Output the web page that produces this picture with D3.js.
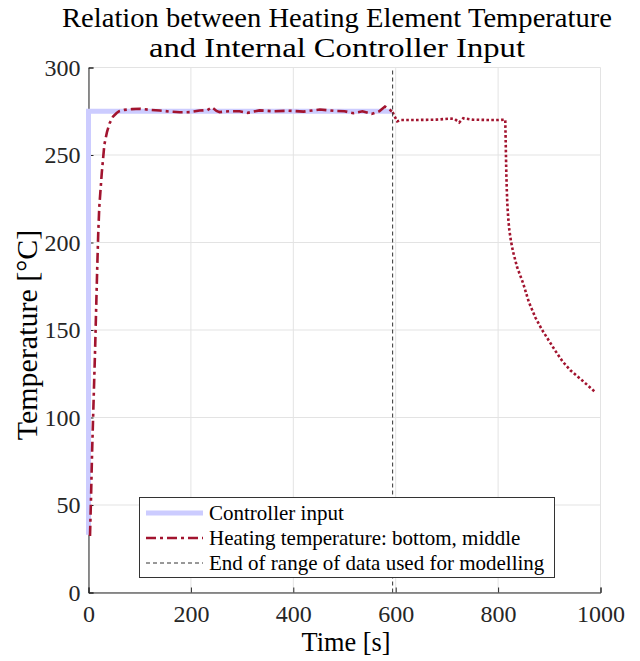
<!DOCTYPE html>
<html>
<head>
<meta charset="utf-8">
<script src="https://cdn.jsdelivr.net/npm/d3@7"></script>
<style>
  html, body { margin: 0; padding: 0; background: #fff; }
  svg { display: block; }
</style>
</head>
<body>
<svg id="chart" width="640" height="661"></svg>
<script>
// ---- data ----
const titleLines = ["Relation between Heating Element Temperature", "and Internal Controller Input"];
const xLabel = "Time [s]";
const yLabel = "Temperature [°C]";
const xTicks = [0, 200, 400, 600, 800, 1000];
const yTicks = [0, 50, 100, 150, 200, 250, 300];
const legendLabels = ["Controller input", "Heating temperature: bottom, middle", "End of range of data used for modelling"];

const controlTime = [0, 0, 592];
const controlValue = [33, 275, 275];

const heatTime = [1, 3, 5, 7, 10, 13, 15, 17, 19, 21, 26, 31, 36, 41, 48, 55, 60, 70, 85, 100, 120, 139, 160, 178, 198, 217, 232, 241, 250, 256, 275, 295, 311, 334, 360, 390, 420, 452, 480, 500, 517, 535, 553, 568, 579, 588, 594,
  597, 603, 610, 640, 680, 706, 715, 724, 732, 750, 780, 800, 814, 815, 816, 817, 818, 820, 822, 825, 829, 837, 849, 860, 873, 886, 899, 912, 926, 941, 965, 988];
const heatValue = [33, 33, 55, 80, 110, 140, 163, 185, 205, 220, 240, 256, 263, 268, 272, 274, 275, 275.8, 276.2, 276.4, 275.8, 275.4, 274.8, 274.4, 274.5, 275.4, 275.6, 277.3, 275.2, 274.5, 275, 275, 274.1, 275.5, 275, 275.3, 274.8, 276, 275.2, 275, 273.9, 275, 273.5, 275, 277.7, 276, 274.5,
  272.6, 269.2, 270, 270, 270.2, 270.8, 270.6, 268.6, 271, 270.2, 270, 270, 270.2, 255, 240, 230, 222, 213, 207, 201, 195, 186, 176.6, 166, 157, 150, 144, 138, 132, 127, 121, 115];

const modelEnd = 594;

// ---- layout ----
const FONT = "Liberation Serif";
const svg = d3.select("#chart");
const x = d3.scaleLinear().domain([0, 1000]).range([88.5, 600.5]);
const y = d3.scaleLinear().domain([0, 300]).range([592.5, 67.5]);

const axisColor = "#262626";
const gridColor = "#e3e3e3";
const blue = "#ccccff";
const red = "#a2142f";

// grid
const g = svg.append("g");
g.selectAll("line.vg").data(xTicks).join("line")
  .attr("x1", d => x(d)).attr("x2", d => x(d))
  .attr("y1", y(0)).attr("y2", y(300))
  .attr("stroke", gridColor).attr("stroke-width", 1);
g.selectAll("line.hg").data(yTicks).join("line")
  .attr("x1", x(0)).attr("x2", x(1000))
  .attr("y1", d => y(d)).attr("y2", d => y(d))
  .attr("stroke", gridColor).attr("stroke-width", 1);

// axes
const xAxis = svg.append("g").attr("transform", `translate(0,${y(0)})`)
  .call(d3.axisBottom(x).tickValues(xTicks).tickSize(-5).tickPadding(12).tickFormat(d3.format("d")));
const yAxis = svg.append("g").attr("transform", `translate(${x(0)},0)`)
  .call(d3.axisLeft(y).tickValues(yTicks).tickSize(-5).tickPadding(8).tickFormat(d3.format("d")));
[xAxis, yAxis].forEach(a => {
  a.attr("font-family", FONT).attr("font-size", 24);
  a.select(".domain").attr("stroke", axisColor).attr("stroke-width", 1);
  a.selectAll(".tick line").attr("stroke", axisColor);
  a.selectAll(".tick text").style("font-family", FONT).style("font-size", "24px").attr("fill", axisColor);
});
xAxis.selectAll(".tick text").attr("dy", "0.71em");
yAxis.selectAll(".tick text").attr("dy", "0.32em");

// lines
const line = d3.line().x(d => x(d[0])).y(d => y(d[1]));
const ctrl = controlTime.map((t, i) => [t, controlValue[i]]);
svg.append("path").datum(ctrl).attr("d", line)
  .attr("fill", "none").attr("stroke", blue).attr("stroke-width", 5).attr("stroke-linejoin", "miter");

const heat = heatTime.map((t, i) => [t, heatValue[i]]);
const heatA = heat.filter(d => d[0] <= modelEnd);
const heatB = heat.filter(d => d[0] >= modelEnd);
svg.append("path").datum(heatA).attr("d", line)
  .attr("fill", "none").attr("stroke", red).attr("stroke-width", 2.6)
  .attr("stroke-dasharray", "10,4,3,4");
svg.append("path").datum(heatB).attr("d", line)
  .attr("fill", "none").attr("stroke", red).attr("stroke-width", 2.6)
  .attr("stroke-dasharray", "2.6,2.3");

// model end line
svg.append("line")
  .attr("x1", x(modelEnd)).attr("x2", x(modelEnd))
  .attr("y1", y(0)).attr("y2", y(300))
  .attr("stroke", "#333").attr("stroke-width", 1).attr("stroke-dasharray", "4,3");

// legend
const lg = svg.append("g");
lg.append("rect").attr("x", 139.5).attr("y", 497.5).attr("width", 415).attr("height", 80)
  .attr("fill", "#fff").attr("stroke", "#333").attr("stroke-width", 1);
const rowY = [513, 538, 563];
const styles = [
  { stroke: blue, w: 5, dash: null },
  { stroke: red, w: 2.6, dash: "10,4,3,4" },
  { stroke: "#333", w: 1, dash: "4,3" }
];
legendLabels.forEach((lab, i) => {
  lg.append("line").attr("x1", 146).attr("x2", 203).attr("y1", rowY[i]).attr("y2", rowY[i])
    .attr("stroke", styles[i].stroke).attr("stroke-width", styles[i].w)
    .attr("stroke-dasharray", styles[i].dash);
  lg.append("text").attr("x", 209).attr("y", rowY[i]).attr("dy", "0.35em")
    .style("font-family", FONT).style("font-size", "21px").attr("fill", "#000").text(lab);
});

// title
const titleWidths = [550, 376];
svg.append("g").selectAll("text").data(titleLines).join("text")
  .attr("x", 337).attr("y", (d, i) => 27 + i * 30)
  .attr("text-anchor", "middle")
  .attr("textLength", (d, i) => titleWidths[i]).attr("lengthAdjust", "spacingAndGlyphs")
  .style("font-family", FONT).style("font-size", "27px").attr("fill", "#000")
  .text(d => d);

// axis labels
svg.append("text").attr("x", 346).attr("y", 651).attr("text-anchor", "middle")
  .attr("textLength", 89).attr("lengthAdjust", "spacingAndGlyphs")
  .style("font-family", FONT).style("font-size", "27px").attr("fill", "#000").text(xLabel);
svg.append("text").attr("transform", `translate(37,335) rotate(-90)`)
  .attr("text-anchor", "middle")
  .style("font-family", FONT).style("font-size", "30px").attr("fill", "#000").text(yLabel);
</script>
</body>
</html>
